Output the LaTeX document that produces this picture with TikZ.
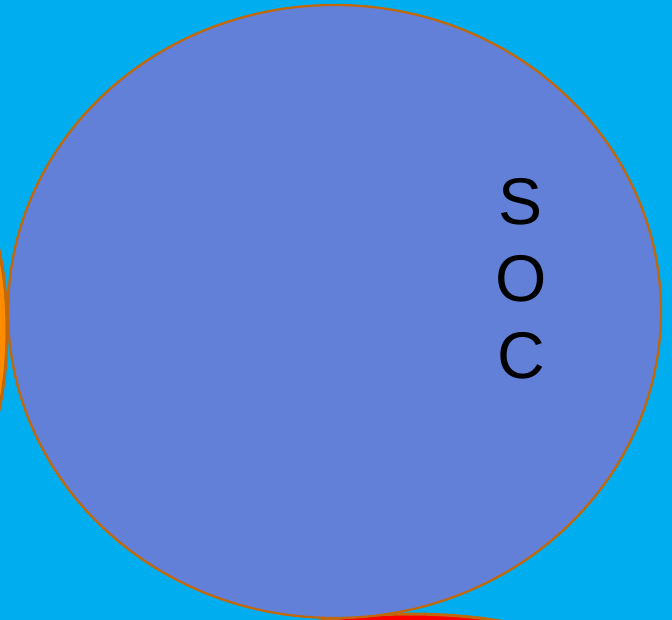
\documentclass[tikz,border=0pt]{standalone}
\usepackage{fontspec}
\setmainfont{Liberation Sans}
\definecolor{bgblue}{HTML}{00AEEF}
\definecolor{socfill}{HTML}{6280D8}
\definecolor{rim}{HTML}{C0680A}
\definecolor{orangefill}{HTML}{FF8C00}
\definecolor{redfill}{HTML}{FF0000}
\begin{document}
\begin{tikzpicture}[x=1pt,y=-1pt,
  blob/.style={draw=rim,line width=3pt}]
\fill[bgblue] (0,0) rectangle (672,620);
\useasboundingbox (0,0) rectangle (672,620);
\begin{scope}
\clip (0,0) rectangle (672,620);
\path[blob,fill=orangefill] (-45,330) ellipse [x radius=52, y radius=150];
\path[blob,fill=redfill] (410,680) ellipse [x radius=200, y radius=66];
\path[draw=rim,line width=2.3pt,fill=socfill] (334.5,311.5) ellipse [x radius=326.5, y radius=306.5];
\end{scope}
\node[align=center,font=\fontsize{66}{77}\selectfont,inner sep=0pt] (soc) at (521,279) {S\\O\\C};
\end{tikzpicture}
\end{document}
